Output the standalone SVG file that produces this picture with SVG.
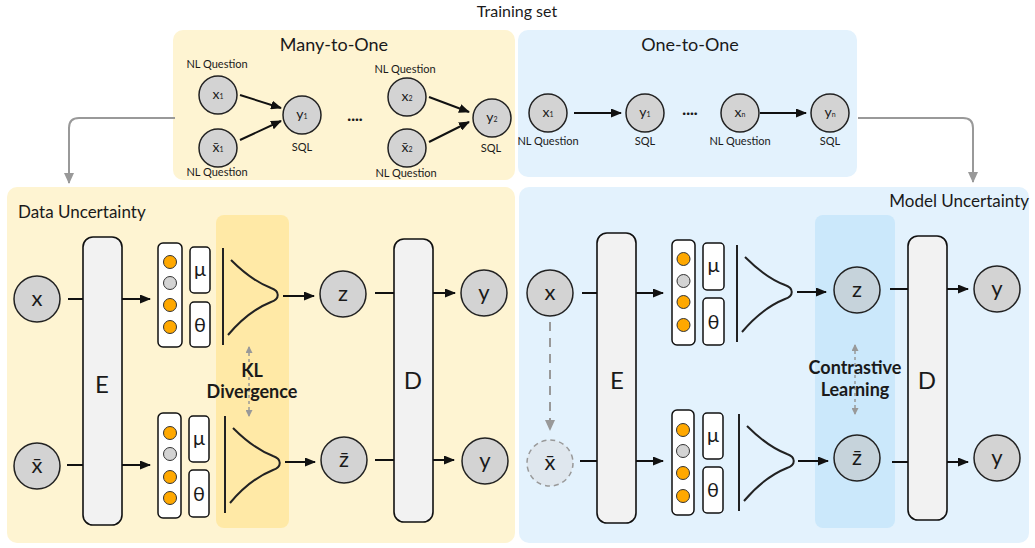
<svg xmlns="http://www.w3.org/2000/svg" width="1035" height="548" viewBox="0 0 1035 548">
<defs>
<style>
text{font-family:Lato,"Liberation Sans",sans-serif;fill:#1a1a1a}
.title{font-size:18px;text-anchor:middle}
.sect{font-size:17px}
.lab{font-size:11px;text-anchor:middle}
.tn{font-size:14px;text-anchor:middle}
.sub{font-size:7px}
.big{font-size:22px;text-anchor:middle}
.blk{font-size:24px;text-anchor:middle}
.par{font-size:20px;text-anchor:middle}
.bold{font-size:18px;font-weight:bold;text-anchor:middle}
.node{fill:#d3d3d3;stroke:#222;stroke-width:1.5}
.znode{fill:#c6d3db;stroke:#222;stroke-width:1.5}
.ghost{fill:#dfe7ee;stroke:#999;stroke-width:1.5;stroke-dasharray:5 4}
.blkbox{fill:#f2f2f2;stroke:#111;stroke-width:1.6}
.vec{fill:#fff;stroke:#111;stroke-width:1.5}
.or{fill:#ffa800;stroke:#333;stroke-width:1}
.gr{fill:#d3d3d3;stroke:#333;stroke-width:1}
.ln{stroke:#111;stroke-width:2;fill:none}
.gl{stroke:#999;stroke-width:2;fill:none}
.gd{stroke:#999;stroke-width:1.5;fill:none;stroke-dasharray:3 3}
.dist{stroke:#222;stroke-width:2;fill:none}
</style>
<marker id="ah" markerUnits="userSpaceOnUse" markerWidth="11" markerHeight="9" refX="10" refY="4.5" orient="auto"><path d="M0,0 L11,4.5 L0,9 z" fill="#111"/></marker>
<marker id="gh" markerUnits="userSpaceOnUse" markerWidth="11" markerHeight="10" refX="10" refY="5" orient="auto"><path d="M0,0 L11,5 L0,10 z" fill="#999"/></marker>
<marker id="gs" markerUnits="userSpaceOnUse" markerWidth="7" markerHeight="7" refX="6" refY="3.5" orient="auto-start-reverse"><path d="M0,0 L7,3.5 L0,7 z" fill="#999"/></marker>
<g id="distshape">
<line x1="0" y1="0" x2="0" y2="97" class="dist"/>
<path d="M8,12 C26,30 40,37 48,40 C57,43 57,51 48,54 C38,58 21,68 5,87" class="dist"/>
</g>
</defs>

<rect width="1035" height="548" fill="#fff"/>

<!-- panels -->
<g id="panels">
<rect x="173" y="30" width="342" height="150" rx="10" fill="#fef4d2"/>
<rect x="518" y="30" width="339" height="147" rx="10" fill="#e3f2fd"/>
<rect x="7" y="187" width="508" height="356" rx="10" fill="#fef4d2"/>
<rect x="519" y="187" width="510" height="356" rx="10" fill="#e3f2fd"/>
<rect x="216" y="215" width="73" height="313" rx="8" fill="#ffe9a6"/>
<rect x="815" y="215" width="80" height="313" rx="8" fill="#cbe8fb"/>
</g>

<text x="517" y="17" class="title" style="font-size:16px">Training set</text>
<text x="334" y="51" class="title">Many-to-One</text>
<text x="690" y="51" class="title">One-to-One</text>
<text x="18" y="218" class="sect">Data Uncertainty</text>
<text x="1029" y="207" class="sect" text-anchor="end">Model Uncertainty</text>

<!-- connectors -->
<g id="connectors">
<path d="M175,118 H79 Q69,118 69,128 V183" class="gl" marker-end="url(#gh)"/>
<path d="M858,118 H963 Q973,118 973,128 V182" class="gl" marker-end="url(#gh)"/>
<line x1="240" y1="95" x2="281" y2="108" class="ln" marker-end="url(#ah)"/>
<line x1="240" y1="140" x2="281" y2="121" class="ln" marker-end="url(#ah)"/>
<line x1="429" y1="97" x2="469" y2="112" class="ln" marker-end="url(#ah)"/>
<line x1="429" y1="142" x2="469" y2="122" class="ln" marker-end="url(#ah)"/>
<line x1="574" y1="113" x2="621" y2="113" class="ln" marker-end="url(#ah)"/>
<line x1="760" y1="113" x2="806" y2="113" class="ln" marker-end="url(#ah)"/>
<!-- left -->
<line x1="68" y1="299" x2="83" y2="299" class="ln"/>
<line x1="122" y1="299" x2="150" y2="299" class="ln" marker-end="url(#ah)"/>
<line x1="283" y1="296" x2="314" y2="296" class="ln" marker-end="url(#ah)"/>
<line x1="375" y1="293" x2="394" y2="293" class="ln"/>
<line x1="433" y1="293" x2="455" y2="293" class="ln" marker-end="url(#ah)"/>
<line x1="67" y1="465" x2="83" y2="465" class="ln"/>
<line x1="122" y1="465" x2="150" y2="465" class="ln" marker-end="url(#ah)"/>
<line x1="285" y1="462" x2="315" y2="462" class="ln" marker-end="url(#ah)"/>
<line x1="375" y1="460" x2="394" y2="460" class="ln"/>
<line x1="433" y1="460" x2="454" y2="460" class="ln" marker-end="url(#ah)"/>
<line x1="249" y1="347" x2="249" y2="416" class="gd" marker-start="url(#gs)" marker-end="url(#gs)"/>
<!-- right -->
<line x1="582" y1="293" x2="597" y2="293" class="ln"/>
<line x1="636" y1="293" x2="663" y2="293" class="ln" marker-end="url(#ah)"/>
<line x1="797" y1="292" x2="826" y2="292" class="ln" marker-end="url(#ah)"/>
<line x1="890" y1="289" x2="908" y2="289" class="ln"/>
<line x1="947" y1="289" x2="968" y2="289" class="ln" marker-end="url(#ah)"/>
<line x1="580" y1="461" x2="597" y2="461" class="ln"/>
<line x1="636" y1="461" x2="663" y2="461" class="ln" marker-end="url(#ah)"/>
<line x1="798" y1="461" x2="828" y2="461" class="ln" marker-end="url(#ah)"/>
<line x1="892" y1="462" x2="908" y2="462" class="ln"/>
<line x1="947" y1="462" x2="968" y2="462" class="ln" marker-end="url(#ah)"/>
<line x1="550" y1="322" x2="550" y2="430" class="gl" stroke-dasharray="9 7" marker-end="url(#gh)"/>
<line x1="855" y1="345" x2="855" y2="414" class="gd" marker-start="url(#gs)" marker-end="url(#gs)"/>
</g>

<!-- top nodes: many-to-one -->
<g id="m-x1"><text x="217" y="68" class="lab">NL Question</text><circle cx="218" cy="95" r="19" class="node"/><text x="218" y="99" class="tn">x<tspan class="sub">1</tspan></text></g>
<g id="m-xb1"><circle cx="218" cy="148" r="19" class="node"/><text x="218" y="152" class="tn">x̄<tspan class="sub">1</tspan></text><text x="217" y="176" class="lab">NL Question</text></g>
<g id="m-y1"><circle cx="302" cy="115" r="19" class="node"/><text x="302" y="119" class="tn">y<tspan class="sub">1</tspan></text><text x="302" y="151" class="lab">SQL</text></g>
<text x="355" y="124" class="tn" style="font-weight:bold">····</text>
<g id="m-x2"><text x="405" y="73" class="lab">NL Question</text><circle cx="407" cy="97" r="19" class="node"/><text x="407" y="101" class="tn">x<tspan class="sub">2</tspan></text></g>
<g id="m-xb2"><circle cx="407" cy="148" r="19" class="node"/><text x="407" y="152" class="tn">x̄<tspan class="sub">2</tspan></text><text x="406" y="177" class="lab">NL Question</text></g>
<g id="m-y2"><circle cx="492" cy="118" r="19" class="node"/><text x="492" y="122" class="tn">y<tspan class="sub">2</tspan></text><text x="491" y="152" class="lab">SQL</text></g>

<!-- top nodes: one-to-one -->
<g id="o-x1"><circle cx="548" cy="113" r="19" class="node"/><text x="548" y="117" class="tn">x<tspan class="sub">1</tspan></text><text x="548" y="145" class="lab">NL Question</text></g>
<g id="o-y1"><circle cx="645" cy="113" r="19" class="node"/><text x="645" y="117" class="tn">y<tspan class="sub">1</tspan></text><text x="645" y="145" class="lab">SQL</text></g>
<text x="690" y="118" class="tn" style="font-weight:bold">····</text>
<g id="o-xn"><circle cx="740" cy="113" r="19" class="node"/><text x="740" y="117" class="tn">x<tspan class="sub">n</tspan></text><text x="740" y="145" class="lab">NL Question</text></g>
<g id="o-yn"><circle cx="830" cy="113" r="19" class="node"/><text x="830" y="117" class="tn">y<tspan class="sub">n</tspan></text><text x="830" y="145" class="lab">SQL</text></g>

<!-- left: data uncertainty -->
<g id="L-x"><circle cx="37" cy="299" r="23" class="node"/><text x="37" y="306" class="big">x</text></g>
<g id="L-xb"><circle cx="37" cy="466" r="23" class="node"/><text x="37" y="473" class="big">x̄</text></g>
<g id="L-E"><rect x="83" y="237" width="39" height="288" rx="10" class="blkbox"/><text x="102" y="393" class="blk">E</text></g>
<g id="L-vec1"><rect x="158" y="243" width="24" height="104" rx="5" class="vec"/><circle cx="170" cy="262" r="6.5" class="or"/><circle cx="170" cy="283" r="6.5" class="gr"/><circle cx="170" cy="305" r="6.5" class="or"/><circle cx="170" cy="327" r="6.5" class="or"/></g>
<g id="L-mu1"><rect x="190" y="247" width="20" height="46" rx="4" class="vec"/><text x="200" y="276" class="par">μ</text></g>
<g id="L-th1"><rect x="190" y="302" width="20" height="45" rx="4" class="vec"/><text x="200" y="332" class="par">θ</text></g>
<g id="L-dist1"><use href="#distshape" x="223" y="248"/></g>
<g id="L-vec2"><rect x="158" y="413" width="23" height="105" rx="5" class="vec"/><circle cx="170" cy="433" r="6.5" class="or"/><circle cx="170" cy="454" r="6.5" class="gr"/><circle cx="170" cy="477" r="6.5" class="or"/><circle cx="170" cy="498" r="6.5" class="or"/></g>
<g id="L-mu2"><rect x="189" y="416" width="20" height="46" rx="4" class="vec"/><text x="199" y="445" class="par">μ</text></g>
<g id="L-th2"><rect x="189" y="470" width="20" height="47" rx="4" class="vec"/><text x="199" y="501" class="par">θ</text></g>
<g id="L-dist2"><use href="#distshape" x="225" y="416"/></g>
<g id="L-kl"><text x="252" y="377" class="bold">KL</text><text x="252" y="398" class="bold">Divergence</text></g>
<g id="L-z"><circle cx="343" cy="294" r="23" class="node"/><text x="343" y="301" class="big">z</text></g>
<g id="L-zb"><circle cx="344" cy="460" r="23" class="node"/><text x="344" y="467" class="big">z̄</text></g>
<g id="L-D"><rect x="394" y="239" width="39" height="283" rx="10" class="blkbox"/><text x="413" y="389" class="blk">D</text></g>
<g id="L-y1"><circle cx="484" cy="293" r="23" class="node"/><text x="484" y="300" class="big">y</text></g>
<g id="L-y2"><circle cx="485" cy="461" r="23" class="node"/><text x="485" y="468" class="big">y</text></g>

<!-- right: model uncertainty -->
<g id="R-x"><circle cx="550" cy="293" r="23" class="node"/><text x="550" y="300" class="big">x</text></g>
<g id="R-xb"><circle cx="550" cy="463" r="23" class="ghost"/><text x="550" y="470" class="big">x̄</text></g>
<g id="R-E"><rect x="597" y="233" width="39" height="290" rx="10" class="blkbox"/><text x="617" y="389" class="blk">E</text></g>
<g id="R-vec1"><rect x="672" y="240" width="23" height="105" rx="5" class="vec"/><circle cx="683.5" cy="259" r="6.5" class="or"/><circle cx="683.5" cy="281" r="6.5" class="gr"/><circle cx="683.5" cy="302" r="6.5" class="or"/><circle cx="683.5" cy="325" r="6.5" class="or"/></g>
<g id="R-mu1"><rect x="703" y="243" width="21" height="47" rx="4" class="vec"/><text x="713.5" y="272" class="par">μ</text></g>
<g id="R-th1"><rect x="703" y="298" width="21" height="47" rx="4" class="vec"/><text x="713.5" y="329" class="par">θ</text></g>
<g id="R-dist1"><use href="#distshape" x="737" y="245"/></g>
<g id="R-vec2"><rect x="672" y="410" width="22" height="105" rx="5" class="vec"/><circle cx="683" cy="430" r="6.5" class="or"/><circle cx="683" cy="451" r="6.5" class="gr"/><circle cx="683" cy="473" r="6.5" class="or"/><circle cx="683" cy="496" r="6.5" class="or"/></g>
<g id="R-mu2"><rect x="703" y="413" width="20" height="46" rx="4" class="vec"/><text x="713" y="442" class="par">μ</text></g>
<g id="R-th2"><rect x="703" y="467" width="20" height="46" rx="4" class="vec"/><text x="713" y="497" class="par">θ</text></g>
<g id="R-dist2"><use href="#distshape" x="739" y="414"/></g>
<g id="R-cl"><text x="855" y="374" class="bold">Contrastive</text><text x="855" y="396" class="bold">Learning</text></g>
<g id="R-z"><circle cx="857" cy="290" r="23" class="znode"/><text x="857" y="297" class="big">z</text></g>
<g id="R-zb"><circle cx="857" cy="458" r="23" class="znode"/><text x="857" y="465" class="big">z̄</text></g>
<g id="R-D"><rect x="908" y="236" width="39" height="284" rx="10" class="blkbox"/><text x="927" y="389" class="blk">D</text></g>
<g id="R-y1"><circle cx="997" cy="289" r="23" class="node"/><text x="997" y="296" class="big">y</text></g>
<g id="R-y2"><circle cx="997" cy="458" r="23" class="node"/><text x="997" y="465" class="big">y</text></g>
</svg>
